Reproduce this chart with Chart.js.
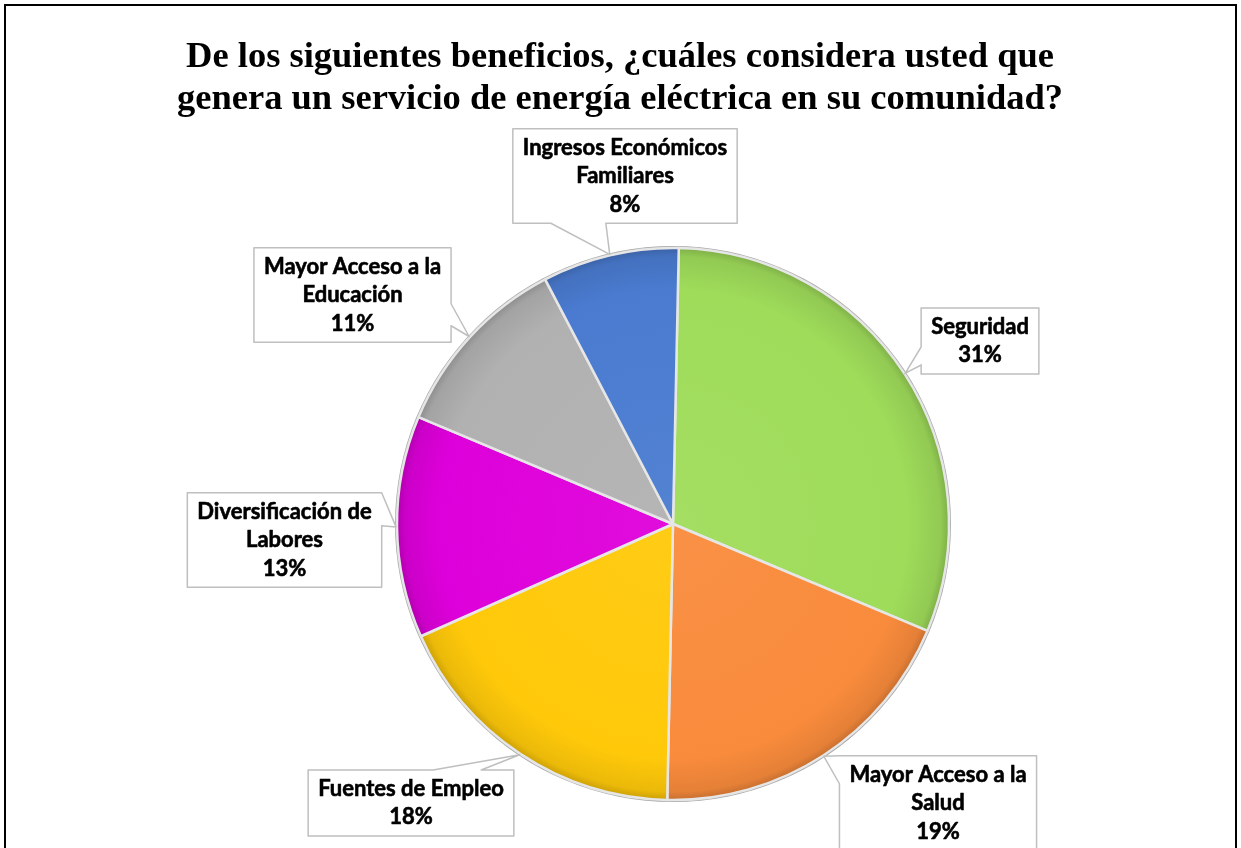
<!DOCTYPE html>
<html><head><meta charset="utf-8">
<script src="https://cdn.jsdelivr.net/npm/chart.js@4/dist/chart.umd.min.js"></script>
<style>html,body{margin:0;padding:0;background:#fff;} #wrap{width:1241px;height:848px;position:relative;overflow:hidden;} canvas{display:block;}</style>
</head><body><div id="wrap"><canvas id="c"></canvas></div>
<script>
// ---- data ----
const titleLines = ['De los siguientes beneficios, ¿cuáles considera usted que', 'genera un servicio de energía eléctrica en su comunidad?'];
const categories = [['Seguridad'], ['Mayor Acceso a la', 'Salud'], ['Fuentes de Empleo'], ['Diversificación de', 'Labores'], ['Mayor Acceso a la', 'Educación'], ['Ingresos Económicos', 'Familiares']];
const values = [31, 19, 18, 13, 11, 8];
const colors = ['#9FDC5A', '#F98B3C', '#FFC90A', '#DE00DA', '#B1B1B1', '#4A7BD0'];

// ---- callout placement (style) ----
const calloutLayout = [
  {cx: 980, cy: 341, side: 'left', b0: 39, b1: 57},
  {cx: 938, cy: 803, side: 'left', b0: 0, b1: 28},
  {cx: 411, cy: 803, side: 'top', b0: 125, b1: 173},
  {cx: 284.5, cy: 540, side: 'right', b0: 0, b1: 33},
  {cx: 352.5, cy: 295, side: 'right', b0: 56, b1: 78},
  {cx: 625, cy: 176, side: 'bottom', b0: 38, b1: 93}
];

function shade(hex, f) {
  const n = parseInt(hex.slice(1), 16);
  let r = (n >> 16) & 255, g = (n >> 8) & 255, b = n & 255;
  const m = c => Math.max(0, Math.min(255, Math.round(f < 0 ? c * (1 + f) : c + (255 - c) * f)));
  return 'rgb(' + m(r) + ',' + m(g) + ',' + m(b) + ')';
}

const total = values.reduce((a, b) => a + b, 0);

const decorPlugin = {
  id: 'decor',
  beforeDatasetsDraw(chart) {
    const meta = chart.getDatasetMeta(0);
    const a = meta.data[0];
    if (!a) return;
    const ctx = chart.ctx;
    ctx.save();
    ctx.beginPath();
    ctx.arc(a.x, a.y, a.outerRadius + 2, 0, Math.PI * 2);
    ctx.fillStyle = '#a9a9a9';
    ctx.fill();
    ctx.restore();
  },
  afterDatasetsDraw(chart) {
    const ctx = chart.ctx;
    const meta = chart.getDatasetMeta(0);
    ctx.save();
    ctx.font = 'bold 22px Lato';
    ctx.textAlign = 'center';
    ctx.textBaseline = 'middle';
    const lineH = 28.5, padX = 10, padY = 4.5;
    meta.data.forEach((arc, i) => {
      const L = calloutLayout[i];
      const lines = categories[i].concat([Math.round(values[i] / total * 100) + '%']);
      let w = 0;
      lines.forEach(t => { w = Math.max(w, ctx.measureText(t).width); });
      const bw = w + 2 * padX, bh = lines.length * lineH + 2 * padY;
      const x0 = L.cx - bw / 2, x1 = L.cx + bw / 2, y0 = L.cy - bh / 2, y1 = L.cy + bh / 2;
      const mid = (arc.startAngle + arc.endAngle) / 2;
      const tx = arc.x + Math.cos(mid) * (arc.outerRadius + 1);
      const ty = arc.y + Math.sin(mid) * (arc.outerRadius + 1);
      const pts = [[x0, y0]];
      if (L.side === 'top') pts.push([x0 + L.b0, y0], [tx, ty], [x0 + L.b1, y0]);
      pts.push([x1, y0]);
      if (L.side === 'right') pts.push([x1, y0 + L.b0], [tx, ty], [x1, y0 + L.b1]);
      pts.push([x1, y1]);
      if (L.side === 'bottom') pts.push([x0 + L.b1, y1], [tx, ty], [x0 + L.b0, y1]);
      pts.push([x0, y1]);
      if (L.side === 'left') pts.push([x0, y0 + L.b1], [tx, ty], [x0, y0 + L.b0]);
      ctx.beginPath();
      pts.forEach((p, k) => k ? ctx.lineTo(p[0], p[1]) : ctx.moveTo(p[0], p[1]));
      ctx.closePath();
      ctx.fillStyle = '#ffffff';
      ctx.fill();
      ctx.lineWidth = 1.5;
      ctx.strokeStyle = '#bfbfbf';
      ctx.stroke();
      ctx.fillStyle = '#000';
      ctx.strokeStyle = '#000';
      ctx.lineWidth = 0.6;
      ctx.lineJoin = 'round';
      const startY = L.cy - (lines.length - 1) * lineH / 2;
      lines.forEach((t, k) => {
        ctx.fillText(t, L.cx, startY + k * lineH);
        ctx.strokeText(t, L.cx, startY + k * lineH);
      });
    });
    ctx.restore();
  },
  afterDraw(chart) {
    const ctx = chart.ctx;
    ctx.save();
    ctx.fillStyle = '#000';
    ctx.font = 'bold 36.5px "Liberation Serif"';
    ctx.textAlign = 'center';
    ctx.textBaseline = 'alphabetic';
    ctx.fillText(titleLines[0], 620, 67);
    ctx.fillText(titleLines[1], 620, 109);
    ctx.lineWidth = 2;
    ctx.strokeStyle = '#000';
    ctx.strokeRect(5, 5, 1231, 860);
    ctx.restore();
  }
};

function build() {
  new Chart(document.getElementById('c'), {
    type: 'pie',
    data: {
      labels: categories.map(c => c.join(' ')),
      datasets: [{
        data: values,
        backgroundColor: (c) => {
          const chart = c.chart, area = chart.chartArea;
          const base = colors[c.dataIndex];
          if (!area) return base;
          const cx = (area.left + area.right) / 2, cy = (area.top + area.bottom) / 2;
          const g = chart.ctx.createRadialGradient(cx, cy, 0, cx, cy, 276);
          g.addColorStop(0, shade(base, 0.05));
          g.addColorStop(0.85, base);
          g.addColorStop(0.97, shade(base, -0.08));
          g.addColorStop(1, shade(base, -0.2));
          return g;
        },
        borderColor: '#e6e6e6',
        borderWidth: 2.5,
        hoverOffset: 0
      }]
    },
    options: {
      responsive: false,
      animation: false,
      rotation: 1.2,
      radius: 276,
      layout: {padding: {left: 390, right: 285, top: 230, bottom: 30}},
      plugins: {legend: {display: false}, title: {display: false}, tooltip: {enabled: false}}
    },
    plugins: [decorPlugin]
  });
}
const cv = document.getElementById('c');
cv.width = 1241; cv.height = 848;
Promise.all([
  document.fonts.load('bold 22px Lato'),
  document.fonts.load('bold 36px "Liberation Serif"')
]).then(build, build);
</script>
</body></html>
